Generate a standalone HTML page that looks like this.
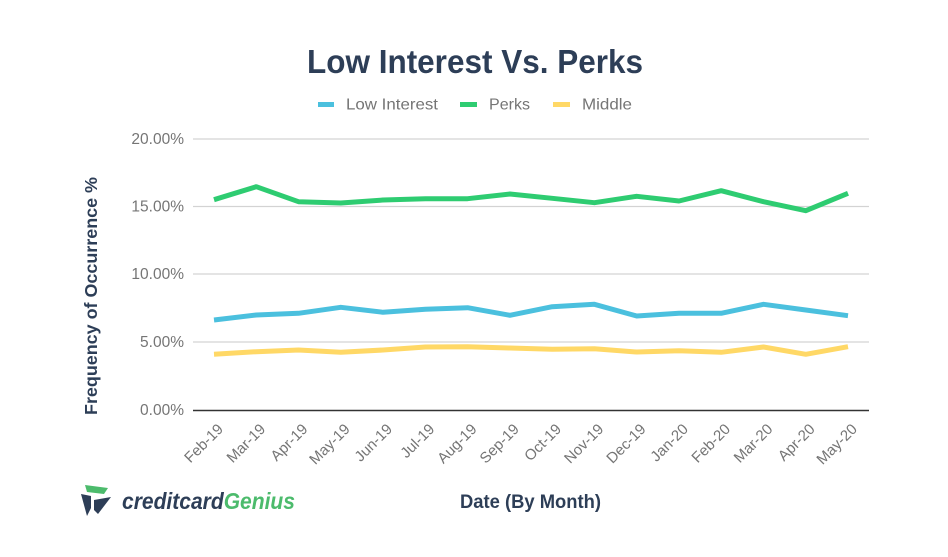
<!DOCTYPE html>
<html><head><meta charset="utf-8"><style>
html,body{margin:0;padding:0;background:#fff;}
svg{display:block;}
text{font-family:"Liberation Sans",Arial,sans-serif;}
</style></head><body>
<svg width="948" height="557" viewBox="0 0 948 557" xmlns="http://www.w3.org/2000/svg">
<rect width="948" height="557" fill="#fff"/>
<text x="475" y="73" text-anchor="middle" font-size="33" font-weight="bold" fill="#2d3e57" textLength="336" lengthAdjust="spacingAndGlyphs">Low Interest Vs. Perks</text>
<rect x="318" y="102" width="16" height="5" fill="#4bc0de"/>
<text x="346" y="109.5" font-size="16" fill="#757575" textLength="92" lengthAdjust="spacingAndGlyphs">Low Interest</text>
<rect x="460" y="102" width="17" height="5" fill="#2ecc71"/>
<text x="489" y="109.5" font-size="16" fill="#757575" textLength="41" lengthAdjust="spacingAndGlyphs">Perks</text>
<rect x="553" y="102" width="17" height="5" fill="#ffd866"/>
<text x="582" y="109.5" font-size="16" fill="#757575" textLength="50" lengthAdjust="spacingAndGlyphs">Middle</text>
<g stroke="#d3d3d3" stroke-width="1.3">
<line x1="193" y1="139" x2="869" y2="139"/>
<line x1="193" y1="206.5" x2="869" y2="206.5"/>
<line x1="193" y1="274" x2="869" y2="274"/>
<line x1="193" y1="342" x2="869" y2="342"/>
</g>
<g font-size="15.5" fill="#757575" text-anchor="end">
<text x="184" y="144">20.00%</text>
<text x="184" y="211.5">15.00%</text>
<text x="184" y="279">10.00%</text>
<text x="184" y="347">5.00%</text>
<text x="184" y="415">0.00%</text>
</g>
<g fill="none" stroke-width="5" stroke-linejoin="round">
<polyline stroke="#ffd866" points="214,354.3 256.3,351.7 298.5,350 340.8,352.3 383.1,350 425.4,347 467.6,346.7 509.9,348 552.2,349.3 594.4,348.7 636.7,352 679,350.7 721.2,352.3 763.5,347 805.8,354.3 848,346.7"/>
<polyline stroke="#4bc0de" points="214,320 256.3,315 298.5,313.3 340.8,307.3 383.1,312.3 425.4,309.3 467.6,307.7 509.9,315.3 552.2,306.7 594.4,304.3 636.7,316 679,313.3 721.2,313.3 763.5,304.3 805.8,310 848,315.7"/>
<polyline stroke="#2ecc71" points="214,199.7 256.3,186.7 298.5,201.7 340.8,203 383.1,200 425.4,198.7 467.6,198.7 509.9,194 552.2,198.3 594.4,202.7 636.7,196.3 679,201 721.2,190.7 763.5,201.7 805.8,210.7 848,193.3"/>
</g>
<line x1="193" y1="410.5" x2="869" y2="410.5" stroke="#333" stroke-width="1.5"/>
<g font-size="15" fill="#757575" text-anchor="end">
<text transform="translate(224,430) rotate(-45)">Feb-19</text>
<text transform="translate(266.3,430) rotate(-45)">Mar-19</text>
<text transform="translate(308.5,430) rotate(-45)">Apr-19</text>
<text transform="translate(350.8,430) rotate(-45)">May-19</text>
<text transform="translate(393.1,430) rotate(-45)">Jun-19</text>
<text transform="translate(435.4,430) rotate(-45)">Jul-19</text>
<text transform="translate(477.6,430) rotate(-45)">Aug-19</text>
<text transform="translate(519.9,430) rotate(-45)">Sep-19</text>
<text transform="translate(562.2,430) rotate(-45)">Oct-19</text>
<text transform="translate(604.4,430) rotate(-45)">Nov-19</text>
<text transform="translate(646.7,430) rotate(-45)">Dec-19</text>
<text transform="translate(689,430) rotate(-45)">Jan-20</text>
<text transform="translate(731.2,430) rotate(-45)">Feb-20</text>
<text transform="translate(773.5,430) rotate(-45)">Mar-20</text>
<text transform="translate(815.8,430) rotate(-45)">Apr-20</text>
<text transform="translate(858,430) rotate(-45)">May-20</text>
</g>
<text transform="translate(97,296) rotate(-90)" text-anchor="middle" font-size="17.5" font-weight="bold" fill="#2d3e57" textLength="238" lengthAdjust="spacingAndGlyphs">Frequency of Occurrence %</text>
<text x="460" y="508" font-size="19" font-weight="bold" fill="#2d3e57" textLength="141" lengthAdjust="spacingAndGlyphs">Date (By Month)</text>
<polygon points="85,485 108,488 104,494 87,492" fill="#4cbb6c"/>
<polygon points="81,494 91,496 91,508 87,516" fill="#2d3e57"/>
<polygon points="94,500 111,497 98,514 94,510" fill="#2d3e57"/>
<text x="122" y="509" font-size="23" font-weight="bold" font-style="italic" textLength="173" lengthAdjust="spacingAndGlyphs"><tspan fill="#2d3e57">creditcard</tspan><tspan fill="#4cbb6c">Genius</tspan></text>
</svg>
</body></html>
